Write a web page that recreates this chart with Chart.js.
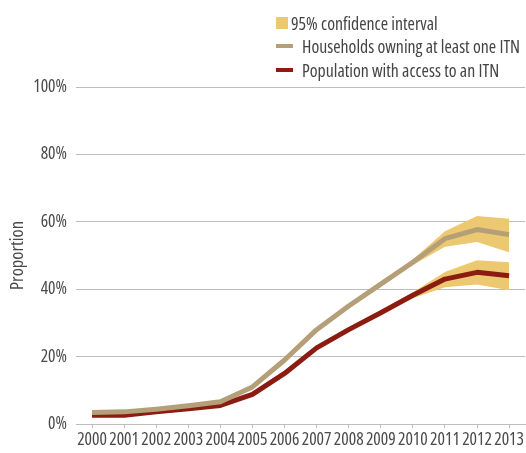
<!DOCTYPE html>
<html>
<head>
<meta charset="utf-8">
<script src="https://cdn.jsdelivr.net/npm/chart.js@4/dist/chart.umd.min.js"></script>
<style>
  html, body { margin: 0; padding: 0; background: #fff; }
  #wrap { position: relative; width: 526px; height: 453px; }
  canvas { position: absolute; left: 0; top: 0; }
  .legend { position: absolute; left: 276px; top: 10px; font-family: "Open Sans", sans-serif; font-stretch: condensed; font-size: 17.8px; color: #444; }
  .item { position: absolute; white-space: nowrap; height: 18px; line-height: 18px; }
  .swatch { position: absolute; left: 0; top: 3px; width: 12px; height: 12px; background: #ecc870; }
  .line { position: absolute; left: 0; top: 7px; width: 17px; height: 4px; }
</style>
</head>
<body>
<div id="wrap">
  <canvas id="myChart" width="526" height="453"></canvas>
  <div class="legend">
    <div class="item" style="top:4px"><span class="swatch"></span><span style="padding-left:15px">95% confidence interval</span></div>
    <div class="item" style="top:27px"><span class="line" style="background:#b59f78"></span><span style="padding-left:26px">Households owning at least one ITN</span></div>
    <div class="item" style="top:51px"><span class="line" style="background:#8c1c12"></span><span style="padding-left:26px">Population with access to an ITN</span></div>
  </div>
</div>
<script>
var years = ["2000", "2001", "2002", "2003", "2004", "2005", "2006", "2007", "2008", "2009", "2010", "2011", "2012", "2013"];

// values in percent
var households      = [3.4, 3.6, 4.4, 5.4, 6.6, 11.0, 19.0, 28.0, 35.0, 41.5, 48.0, 55.0, 57.7, 56.2];
var householdsLower = [3.0, 3.1, 3.9, 4.9, 6.0, 10.4, 18.4, 27.4, 34.3, 40.8, 47.2, 52.6, 54.0, 51.0];
var householdsUpper = [3.9, 4.1, 4.9, 5.9, 7.2, 11.6, 19.6, 28.6, 35.7, 42.2, 48.8, 57.2, 61.7, 60.9];

var access      = [2.6, 2.6, 3.6, 4.5, 5.5, 8.8, 15.0, 22.6, 28.0, 33.0, 38.2, 43.0, 45.0, 44.0];
var accessLower = [2.2, 2.2, 3.1, 4.0, 5.0, 8.3, 14.4, 22.0, 27.3, 32.3, 37.3, 40.6, 41.4, 39.7];
var accessUpper = [3.0, 3.0, 4.1, 5.0, 6.0, 9.3, 15.6, 23.2, 28.7, 33.7, 39.1, 45.1, 48.6, 48.0];

var yTicks = [0, 20, 40, 60, 80, 100];

var ciColor = '#ecc870';
// weight slot carries the font-stretch keyword so the canvas gets the condensed face
var tickFont = { family: "'Open Sans', sans-serif", size: 17.5, weight: 'condensed' };
var titleFont = { family: "'Open Sans', sans-serif", size: 18.5, weight: 'condensed' };

var ctx = document.getElementById('myChart');
var chart = new Chart(ctx, {
  type: 'line',
  data: {
    labels: years,
    datasets: [
      { label: 'Households owning at least one ITN', data: households, borderColor: '#b59f78', borderWidth: 5, fill: false },
      { label: 'Population with access to an ITN', data: access, borderColor: '#8c1c12', borderWidth: 5, fill: false },
      { label: 'hh upper', data: householdsUpper, borderWidth: 0, borderColor: 'rgba(0,0,0,0)', fill: false },
      { label: 'hh lower', data: householdsLower, borderWidth: 0, borderColor: 'rgba(0,0,0,0)', backgroundColor: ciColor, fill: '-1' },
      { label: 'acc upper', data: accessUpper, borderWidth: 0, borderColor: 'rgba(0,0,0,0)', fill: false },
      { label: 'acc lower', data: accessLower, borderWidth: 0, borderColor: 'rgba(0,0,0,0)', backgroundColor: ciColor, fill: '-1' }
    ]
  },
  options: {
    responsive: false,
    animation: false,
    layout: { padding: { top: 87, right: 0, bottom: 0, left: 0 } },
    elements: {
      point: { radius: 0, hoverRadius: 0 },
      line: { tension: 0, borderJoinStyle: 'round', borderCapStyle: 'butt' }
    },
    plugins: {
      legend: { display: false },
      tooltip: { enabled: false },
      filler: { drawTime: 'beforeDatasetsDraw' }
    },
    scales: {
      x: {
        offset: true,
        grid: { drawOnChartArea: false, drawTicks: true, tickLength: 4, color: '#bdbdbd', offset: false },
        border: { color: '#bdbdbd', width: 1 },
        ticks: { color: '#4a4a4a', font: tickFont, padding: 2, maxRotation: 0, autoSkip: false }
      },
      y: {
        min: 0,
        max: 100,
        afterBuildTicks: function (scale) { scale.ticks = yTicks.map(function (v) { return { value: v }; }); },
        afterFit: function (scale) { scale.width = 76; },
        grid: { color: '#bdbdbd', lineWidth: 1, drawTicks: false },
        border: { display: false },
        ticks: { color: '#4a4a4a', font: tickFont, padding: 9, callback: function (v) { return v + '%'; } },
        title: { display: true, text: 'Proportion', color: '#4a4a4a', font: titleFont, padding: { top: 7, bottom: 0 } }
      }
    }
  }
});
</script>
</body>
</html>
